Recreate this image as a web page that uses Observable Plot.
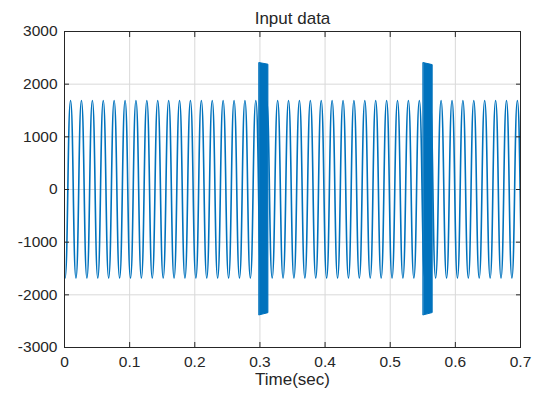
<!DOCTYPE html>
<html>
<head>
<meta charset="utf-8">
<script src="https://cdn.jsdelivr.net/npm/d3@7"></script>
<script src="https://cdn.jsdelivr.net/npm/@observablehq/plot@0.6"></script>
<style>
  html, body { margin: 0; padding: 0; background: #ffffff; }
  #chart svg { display: block; }
</style>
</head>
<body>
<div id="chart"></div>
<script>
// ---- data ----
const chartTitle = "Input data";
const xLabel = "Time(sec)";
const xTicks = [0, 0.1, 0.2, 0.3, 0.4, 0.5, 0.6, 0.7];
const yTicks = [-3000, -2000, -1000, 0, 1000, 2000, 3000];

// times (s) of the positive peaks of the ~60 Hz wave
const peakTimes = [-0.0074, 0.0093, 0.0260, 0.0428, 0.0595, 0.0762, 0.0930, 0.1097, 0.1264,
  0.1431, 0.1599, 0.1766, 0.1933, 0.2101, 0.2268, 0.2435, 0.2603, 0.2770, 0.2937,
  0.3104, 0.3272, 0.3439, 0.3606, 0.3774, 0.3941, 0.4108, 0.4276, 0.4443, 0.4610,
  0.4777, 0.4945, 0.5112, 0.5279, 0.5447, 0.5614, 0.5781, 0.5949, 0.6116, 0.6283,
  0.6450, 0.6618, 0.6785, 0.6952];
// times (s) of the negative troughs
const troughTimes = [0.0009, 0.0176, 0.0344, 0.0511, 0.0678, 0.0846, 0.1013, 0.1180, 0.1347,
  0.1515, 0.1682, 0.1849, 0.2017, 0.2184, 0.2351, 0.2519, 0.2686, 0.2853, 0.3020,
  0.3188, 0.3355, 0.3522, 0.3690, 0.3857, 0.4024, 0.4192, 0.4359, 0.4526, 0.4693,
  0.4861, 0.5028, 0.5195, 0.5363, 0.5530, 0.5697, 0.5865, 0.6032, 0.6199, 0.6366,
  0.6534, 0.6701, 0.6868, 0.7036];
const peakValue = 1690;
const troughValue = -1680;

// the two short bursts (dense oscillation envelope)
const burstStart = [0.2995, 0.5514];
const burstEnd = [0.3130, 0.5652];
const burstTopStart = [2400, 2400];
const burstTopEnd = [2370, 2362];
const burstBottomStart = [-2390, -2390];
const burstBottomEnd = [-2348, -2346];

// ---- build tables ----
const wave = [
  ...peakTimes.map(t => ({t, v: peakValue})),
  ...troughTimes.map(t => ({t, v: troughValue}))
].sort((a, b) => a.t - b.t);

const bursts = [];
burstStart.forEach((s, i) => {
  bursts.push({id: i, t: s, top: burstTopStart[i], bottom: burstBottomStart[i]});
  bursts.push({id: i, t: burstEnd[i], top: burstTopEnd[i], bottom: burstBottomEnd[i]});
});

const ink = "#262626";
const blue = "#0072BD";
const font = "'Liberation Sans', Arial, Helvetica, sans-serif";

const chart = Plot.plot({
  width: 539,
  height: 397,
  marginLeft: 64,
  marginRight: 19,
  marginTop: 31,
  marginBottom: 50,
  style: {fontFamily: font, fontSize: "15.5px", color: ink, background: "#ffffff", overflow: "visible"},
  x: {domain: [0, 0.7], ticks: xTicks},
  y: {domain: [-3000, 3000], ticks: yTicks},
  marks: [
    Plot.gridX(xTicks, {stroke: "#d9d9d9", strokeOpacity: 1, strokeWidth: 1}),
    Plot.gridY(yTicks, {stroke: "#d9d9d9", strokeOpacity: 1, strokeWidth: 1}),
    Plot.line(wave, {x: "t", y: "v", stroke: blue, strokeWidth: 1.6, curve: "bump-x", clip: true}),
    Plot.areaY(bursts, {x: "t", y1: "bottom", y2: "top", z: "id", fill: blue, stroke: blue, strokeWidth: 1}),
    Plot.frame({stroke: ink, strokeWidth: 1}),
    // tick labels
    Plot.axisX(xTicks, {anchor: "bottom", tickSize: 0, tickPadding: 8, tickFormat: d => String(d), label: null, fill: ink, fontSize: 15.5}),
    Plot.axisY(yTicks, {anchor: "left", tickSize: 0, tickPadding: 7, tickFormat: d => String(d), label: null, fill: ink, fontSize: 15.5}),
    // inward tick marks on all four sides
    Plot.axisX(xTicks, {anchor: "bottom", tickSize: -5, tickFormat: () => "", label: null, stroke: ink}),
    Plot.axisX(xTicks, {anchor: "top", tickSize: -5, tickFormat: () => "", label: null, stroke: ink}),
    Plot.axisY(yTicks, {anchor: "left", tickSize: -5, tickFormat: () => "", label: null, stroke: ink}),
    Plot.axisY(yTicks, {anchor: "right", tickSize: -5, tickFormat: () => "", label: null, stroke: ink}),
    // title and x label
    Plot.text([chartTitle], {frameAnchor: "top", dy: -19.5, fontSize: 17, fill: ink, text: d => d}),
    Plot.text([xLabel], {frameAnchor: "bottom", dy: 37, fontSize: 17, fill: ink, text: d => d})
  ]
});

document.getElementById("chart").appendChild(chart);
</script>
</body>
</html>
